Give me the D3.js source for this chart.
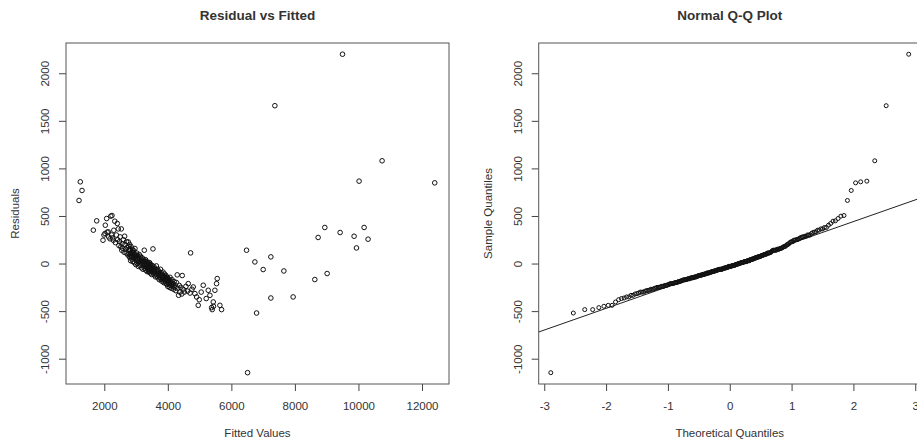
<!DOCTYPE html>
<html>
<head>
<meta charset="utf-8">
<script src="https://cdn.jsdelivr.net/npm/d3@7"></script>
<style>
  body { margin: 0; background: #fff; }
  text { font-family: "Liberation Sans", Arial, sans-serif; fill: #333; }
</style>
</head>
<body>
<div id="chart"></div>
<script>
// fitted values and residuals (same order in both arrays)
var fittedValues = [
  // isolated points
  1205,1245,1299,4717,6478,6510,6740,6793,7001,7243,
  7243,7369,7652,7944,8627,8731,8941,9014,9423,9498,
  9863,9938,10020,10178,10303,10744,12401,
  // cluster 1650-2250
  1655,1761,1959,1990,2022,2032,2075,2090,2126,2140,2180,2204,2230,2242,
  // cluster 2250-2800
  2260,2283,2300,2330,2350,2380,2409,2420,2440,2460,
  2480,2500,2520,2535,2550,2560,2580,2600,2620,2641,
  2651,2670,2690,2700,2720,2740,2755,2760,2775,2780,
  2790,2795,2800,
  // cluster 2800-3400
  2810,2815,2825,2830,2840,2850,2860,2870,2880,2885,
  2895,2900,2910,2920,2930,2940,2950,2955,2965,2970,
  2980,2990,3000,3010,3020,3030,3040,3050,3060,3070,
  3080,3090,3100,3110,3120,3130,3140,3150,3160,3170,
  3180,3190,3200,3210,3220,3230,3240,3250,3259,3265,
  3275,3280,3290,3300,3310,3315,3325,3330,3340,3350,
  3355,3360,3370,3375,3380,3385,3390,3395,3398,3400,
  // cluster 3400-3950
  3405,3410,3420,3425,3430,3440,3450,3455,3460,3470,
  3480,3490,3500,3505,3515,3525,3532,3540,3550,3560,
  3570,3580,3590,3600,3610,3620,3630,3640,3650,3660,
  3670,3680,3690,3700,3710,3720,3730,3740,3750,3760,
  3770,3780,3790,3800,3810,3820,3830,3840,3850,3860,
  3870,3880,3890,3900,3910,3920,3930,3940,3945,3950,
  // cluster 3950-4600
  3960,3970,3980,3990,4000,4010,4020,4030,4040,4050,
  4060,4070,4080,4095,4110,4120,4135,4150,4165,4180,
  4200,4215,4230,4250,4270,4296,4310,4340,4360,4380,
  4410,4440,4453,4480,4520,4570,
  // cluster 4600-5700
  4620,4643,4700,4760,4800,4853,4906,4957,4989,5050,
  5115,5209,5272,5325,5378,5397,5430,5437,5482,5534,
  5555,5639,5692
];

var residuals = [
  663,859,768,112,140,-1147,17,-520,-63,70,
  -362,1659,-78,-351,-168,274,379,-105,326,2200,
  287,164,866,379,256,1080,848,
  351,449,245,300,316,403,473,330,333,280,260,498,300,505,
  270,245,350,445,220,300,421,250,364,190,
  230,280,175,364,140,210,160,250,120,287,
  200,150,110,230,170,90,227,140,180,100,
  75,150,200,
  60,140,95,30,180,110,70,125,45,150,
  90,20,115,60,135,80,10,100,158,50,
  85,-10,70,30,110,55,0,85,40,-30,
  65,20,95,45,-20,30,75,5,50,-45,
  20,60,-5,30,-60,10,45,-25,140,0,
  -50,25,-15,40,-70,-5,20,-40,-10,-85,
  15,-30,-60,10,-45,-20,-75,0,-30,-55,
  -20,-90,-40,10,-65,-30,-100,-50,-10,-75,
  -40,-115,-60,-20,-85,-45,154,-100,-65,-30,
  -120,-80,-50,-95,-140,-70,-110,-25,-85,-130,
  -100,-60,-150,-110,-80,-125,-170,-95,-140,-115,
  -60,-160,-130,-100,-185,-145,-120,-170,-90,-150,
  -200,-135,-165,-110,-190,-150,-175,-125,-210,-160,
  -140,-220,-180,-150,-240,-195,-160,-210,-175,-250,
  -200,-145,-230,-185,-260,-205,-170,-240,-215,-270,
  -190,-250,-225,-285,-200,-119,-260,-334,-230,-300,
  -250,-320,-126,-270,-300,-240,
  -290,-211,-310,-270,-246,-316,-351,-439,-380,-300,
  -228,-368,-281,-334,-463,-484,-404,-449,-281,-211,
  -158,-439,-484
];

var fittedTicks = [2000, 4000, 6000, 8000, 10000, 12000];
var residTicks = [-1000, -500, 0, 500, 1000, 1500, 2000];
var quantileTicks = [-3, -2, -1, 0, 1, 2, 3];

// reference line of the Q-Q plot
var qqIntercept = -15;
var qqSlope = 228;

// set the dimensions of the page and the two plot boxes
var width = 917, height = 448;
var boxTop = 43, boxBottom = 384;
var left = {x0: 66, x1: 449};
var right = {x0: 538.7, x1: 920.8};

var svg = d3.select("#chart")
  .append("svg")
    .attr("width", width)
    .attr("height", height);

// shared Y scale (both panels use the same residual range)
var yLeft = d3.scaleLinear()
  .domain([-1266, 2318])
  .range([boxBottom, boxTop]);

// R prints a plain hyphen for negative numbers
var plain = function (d) { return String(d); };

// inverse of the standard normal CDF (Acklam), used for theoretical quantiles
function qnorm(p) {
  var a = [-3.969683028665376e+01, 2.209460984245205e+02, -2.759285104469687e+02, 1.383577518672690e+02, -3.066479806614716e+01, 2.506628277459239e+00];
  var b = [-5.447609879822406e+01, 1.615858368580409e+02, -1.556989798598866e+02, 6.680131188771972e+01, -1.328068155288572e+01];
  var c = [-7.784894002430293e-03, -3.223964580411365e-01, -2.400758277161838e+00, -2.549732539343734e+00, 4.374664141464968e+00, 2.938163982698783e+00];
  var d = [7.784695709041462e-03, 3.224671290700398e-01, 2.445134137142996e+00, 3.754408661907416e+00];
  var plow = 0.02425, q, r;
  if (p < plow) {
    q = Math.sqrt(-2 * Math.log(p));
    return (((((c[0]*q+c[1])*q+c[2])*q+c[3])*q+c[4])*q+c[5]) / ((((d[0]*q+d[1])*q+d[2])*q+d[3])*q+1);
  }
  if (p > 1 - plow) {
    q = Math.sqrt(-2 * Math.log(1 - p));
    return -(((((c[0]*q+c[1])*q+c[2])*q+c[3])*q+c[4])*q+c[5]) / ((((d[0]*q+d[1])*q+d[2])*q+d[3])*q+1);
  }
  q = p - 0.5; r = q * q;
  return (((((a[0]*r+a[1])*r+a[2])*r+a[3])*r+a[4])*r+a[5])*q / (((((b[0]*r+b[1])*r+b[2])*r+b[3])*r+b[4])*r+1);
}

// draws the frame, axes and labels of one panel
function drawFrame(g, x, y, xTicks, yTicks, box, title, xLabel, yLabel) {
  // X axis
  var xa = g.append("g")
    .attr("transform", "translate(0," + boxBottom + ")")
    .call(d3.axisBottom(x).tickValues(xTicks).tickSize(7).tickPadding(11).tickFormat(plain));
  xa.select(".domain").remove();
  xa.selectAll("line").attr("stroke", "#444");
  xa.selectAll("text").style("font-size", "11.5px").attr("fill", "#333");

  // Y axis, labels turned like R does
  var ya = g.append("g")
    .attr("transform", "translate(" + box.x0 + ",0)")
    .call(d3.axisLeft(y).tickValues(yTicks).tickSize(7).tickFormat(plain));
  ya.select(".domain").remove();
  ya.selectAll("line").attr("stroke", "#444");
  ya.selectAll("text")
    .style("font-size", "11.5px")
    .attr("fill", "#333")
    .attr("x", 0)
    .attr("y", -17)
    .attr("dy", 0)
    .attr("text-anchor", "middle")
    .attr("transform", "rotate(-90)");

  // box
  g.append("rect")
    .attr("x", box.x0)
    .attr("y", boxTop)
    .attr("width", box.x1 - box.x0)
    .attr("height", boxBottom - boxTop)
    .attr("fill", "none")
    .attr("stroke", "#555")
    .attr("stroke-width", 1);

  var cx = (box.x0 + box.x1) / 2;
  g.append("text")
    .attr("x", cx)
    .attr("y", 20)
    .attr("text-anchor", "middle")
    .style("font-size", "13.5px")
    .style("font-weight", "bold")
    .attr("fill", "#222")
    .text(title);

  g.append("text")
    .attr("x", cx)
    .attr("y", 437)
    .attr("text-anchor", "middle")
    .style("font-size", "11.5px")
    .text(xLabel);

  g.append("text")
    .attr("transform", "translate(" + (box.x0 - 47) + "," + ((boxTop + boxBottom) / 2) + ") rotate(-90)")
    .attr("text-anchor", "middle")
    .style("font-size", "11.5px")
    .text(yLabel);
}

/*** CHART 1: Residual vs Fitted ***/

var x1 = d3.scaleLinear()
  .domain([795, 12850])
  .range([left.x0, left.x1]);

var g1 = svg.append("g");
drawFrame(g1, x1, yLeft, fittedTicks, residTicks, left,
  "Residual vs Fitted", "Fitted Values", "Residuals");

g1.append("g")
  .selectAll("circle")
  .data(fittedValues)
  .enter()
  .append("circle")
    .attr("cx", function (d) { return x1(d); })
    .attr("cy", function (d, i) { return yLeft(residuals[i]); })
    .attr("r", 2.3)
    .attr("fill", "none")
    .attr("stroke", "#111")
    .attr("stroke-width", 1);

/*** CHART 2: Normal Q-Q Plot ***/

var x2 = d3.scaleLinear()
  .domain([-3.09, 3.09])
  .range([right.x0, right.x1]);

var g2 = svg.append("g");
drawFrame(g2, x2, yLeft, quantileTicks, residTicks, right,
  "Normal Q-Q Plot", "Theoretical Quantiles", "Sample Quantiles");

var sorted = residuals.slice().sort(d3.ascending);
var n = sorted.length;

g2.append("clipPath")
    .attr("id", "qqclip")
  .append("rect")
    .attr("x", right.x0)
    .attr("y", boxTop)
    .attr("width", right.x1 - right.x0)
    .attr("height", boxBottom - boxTop);

// qq line
g2.append("line")
  .attr("clip-path", "url(#qqclip)")
  .attr("x1", x2(-3.09))
  .attr("y1", yLeft(qqIntercept + qqSlope * -3.09))
  .attr("x2", x2(3.09))
  .attr("y2", yLeft(qqIntercept + qqSlope * 3.09))
  .attr("stroke", "#222")
  .attr("stroke-width", 1);

g2.append("g")
  .selectAll("circle")
  .data(sorted)
  .enter()
  .append("circle")
    .attr("cx", function (d, i) { return x2(qnorm((i + 0.5) / n)); })
    .attr("cy", function (d) { return yLeft(d); })
    .attr("r", 2)
    .attr("fill", "none")
    .attr("stroke", "#111")
    .attr("stroke-width", 1);
</script>
</body>
</html>
